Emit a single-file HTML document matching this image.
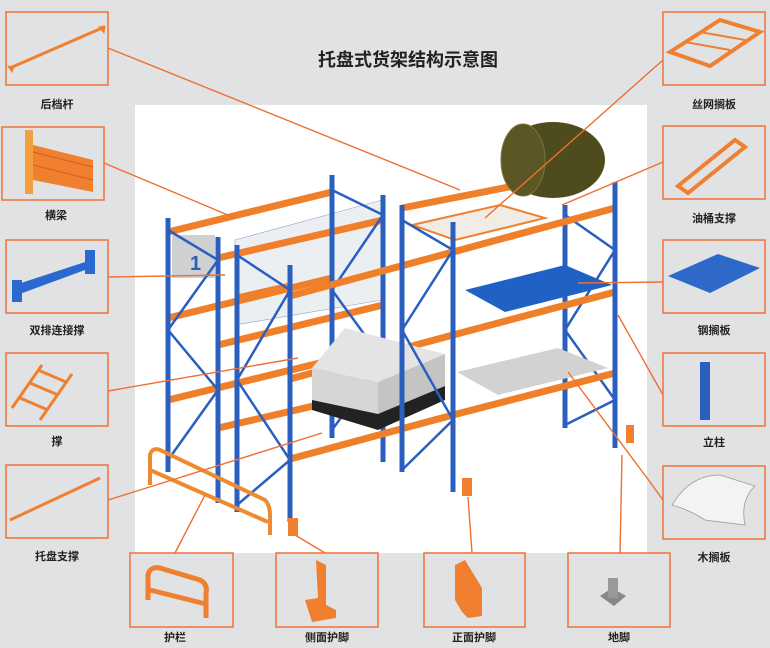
<!DOCTYPE html>
<html><head><meta charset="utf-8"><style>
html,body{margin:0;padding:0;background:#e1e2e4;}
svg{display:block;}
text{font-family:"Liberation Sans","Noto Sans CJK SC",sans-serif;font-weight:bold;fill:#222;}
</style></head><body>
<svg width="770" height="648" viewBox="0 0 770 648" xmlns="http://www.w3.org/2000/svg">
<rect width="770" height="648" fill="#e1e2e4"/>
<rect x="135" y="105" width="512" height="448" fill="#fff"/>
<text x="408" y="66" font-size="18" text-anchor="middle">托盘式货架结构示意图</text>

<g fill="none" stroke="#ee7a45" stroke-width="1.6">
<rect x="6" y="12" width="102" height="73"/>
<rect x="2" y="127" width="102" height="73"/>
<rect x="6" y="240" width="102" height="73"/>
<rect x="6" y="353" width="102" height="73"/>
<rect x="6" y="465" width="102" height="73"/>
<rect x="663" y="12" width="102" height="73"/>
<rect x="663" y="126" width="102" height="73"/>
<rect x="663" y="240" width="102" height="73"/>
<rect x="663" y="353" width="102" height="73"/>
<rect x="663" y="466" width="102" height="73"/>
<rect x="130" y="553" width="103" height="74"/>
<rect x="276" y="553" width="102" height="74"/>
<rect x="424" y="553" width="101" height="74"/>
<rect x="568" y="553" width="102" height="74"/>
</g>
<g font-size="11" text-anchor="middle">
<text x="57" y="108">后档杆</text>
<text x="56" y="219">横梁</text>
<text x="57" y="334">双排连接撑</text>
<text x="57" y="445">撑</text>
<text x="57" y="560">托盘支撑</text>
<text x="714" y="108">丝网搁板</text>
<text x="714" y="222">油桶支撑</text>
<text x="714" y="334">钢搁板</text>
<text x="714" y="446">立柱</text>
<text x="714" y="561">木搁板</text>
<text x="175" y="641">护栏</text>
<text x="327" y="641">侧面护脚</text>
<text x="474" y="641">正面护脚</text>
<text x="619" y="641">地脚</text>
</g>

<g stroke="#f08030" fill="#f08030">
<line x1="10" y1="68" x2="102" y2="28" stroke-width="3"/>
<path d="M8 66 l4 6 l2-5z M99 27 l5 6 l1-7z"/>
<rect x="25" y="130" width="8" height="64" fill="#f4a040" stroke="none"/>
<path d="M33 145 L93 160 L93 192 L33 180Z" stroke="none"/>
<path d="M33 152 L93 167 M33 165 L93 180" stroke="#d06020" stroke-width="1"/>
<rect x="700" y="362" width="10" height="58" fill="#2a5fc0" stroke="none"/>
<g stroke-width="3" fill="none">
<line x1="12" y1="408" x2="42" y2="365"/><line x1="40" y1="420" x2="72" y2="374"/>
<line x1="20" y1="398" x2="48" y2="410"/><line x1="30" y1="383" x2="58" y2="395"/><line x1="38" y1="370" x2="66" y2="382"/>
<line x1="10" y1="520" x2="100" y2="478"/>
<path d="M670 52 L720 20 L760 32 L710 66Z" stroke-width="4"/>
<path d="M685 42 L730 50 M700 32 L745 40" stroke-width="2"/>
<path d="M678 186 L735 140 L745 147 L688 193Z" stroke-width="4"/>
<path d="M148 600 L148 575 Q150 566 160 568 L200 580 Q208 584 206 594 L206 618" stroke-width="5"/>
<line x1="150" y1="590" x2="206" y2="604" stroke-width="5"/>
</g>
<path d="M316 560 L326 565 L326 605 L336 610 L336 618 L312 622 L305 600 L318 598Z" stroke="none"/>
<path d="M455 565 L465 560 L482 588 L482 616 L468 618 L462 612 L455 600Z" stroke="none"/>
</g>
<path d="M15 285 L85 262 L85 270 L17 295Z" fill="#2a6ad0"/>
<rect x="12" y="280" width="10" height="22" fill="#2a6ad0"/>
<rect x="85" y="250" width="10" height="24" fill="#2a6ad0"/>
<path d="M668 276 L718 254 L760 268 L710 293Z" fill="#2e68c8"/>
<path d="M672 505 Q690 475 720 475 L755 486 Q740 500 745 525 L705 520 Q690 510 672 505Z" fill="#f3f3f3" stroke="#999" stroke-width="0.8"/>
<path d="M600 596 L612 588 L626 596 L614 606Z" fill="#888"/>
<rect x="608" y="578" width="10" height="20" fill="#999"/>

<g stroke-linecap="butt">
<path d="M235 240 L382 200 L382 300 L235 325Z" fill="#eceff2" stroke="#8aa0c0" stroke-width="0.6"/>
<rect x="172" y="235" width="43" height="43" fill="#cfd0d2"/>
<text x="190" y="270" font-size="20" style="fill:#2a5fb8">1</text>
<g stroke="#f07f2a" stroke-width="7">
<line x1="168" y1="232" x2="332" y2="192"/>
<line x1="168" y1="318" x2="332" y2="278"/>
<line x1="168" y1="400" x2="332" y2="360"/>
<line x1="402" y1="208" x2="565" y2="176"/>
<line x1="218" y1="258" x2="383" y2="220"/>
<line x1="218" y1="345" x2="383" y2="305"/>
<line x1="218" y1="428" x2="383" y2="390"/>
</g>
<g stroke="#2a5fc0" stroke-width="5">
<line x1="168" y1="218" x2="168" y2="472"/>
<line x1="218" y1="237" x2="218" y2="503"/>
<line x1="332" y1="175" x2="332" y2="438"/>
<line x1="383" y1="195" x2="383" y2="462"/>
<line x1="565" y1="205" x2="565" y2="428"/>
</g>
<g stroke="#2a5fc0" stroke-width="2.5" fill="none">
<path d="M168 230 L218 260 L168 330 L218 390 L168 460"/>
<path d="M332 190 L383 215 L332 290 L383 360 L332 430"/>
<path d="M565 215 L615 250 L565 330 L615 400 L565 425"/>
</g>
<path d="M457 372 L558 348 L608 368 L498 395Z" fill="#d2d2d2"/>
<path d="M465 290 L565 265 L612 285 L505 312Z" fill="#1f62c4"/>
<path d="M412 225 L500 205 L545 218 L455 240Z" fill="#f2ece6" stroke="#f08030" stroke-width="2"/>
<ellipse cx="553" cy="160" rx="52" ry="38" fill="#4e4b1c"/>
<ellipse cx="523" cy="160" rx="22" ry="36" fill="#5a5724" stroke="#7a7740" stroke-width="1"/>
<g stroke="#f07f2a" stroke-width="7">
<line x1="237" y1="298" x2="290" y2="286"/>
<line x1="290" y1="296" x2="453" y2="252"/>
<line x1="290" y1="379" x2="453" y2="335"/>
<line x1="290" y1="459" x2="453" y2="415"/>
<line x1="453" y1="252" x2="615" y2="208"/>
<line x1="453" y1="335" x2="615" y2="292"/>
<line x1="453" y1="415" x2="615" y2="373"/>
</g>
<path d="M312 398 L378 412 L445 385 L445 400 L378 430 L312 410Z" fill="#222"/>
<path d="M312 368 L378 382 L378 414 L312 400Z" fill="#d6d6d6"/>
<path d="M378 382 L445 354 L445 386 L378 414Z" fill="#c4c4c4"/>
<path d="M312 368 L345 328 L445 354 L378 382Z" fill="#e4e4e4"/>
<g stroke="#2a5fc0" stroke-width="2.5" fill="none">
<path d="M237 255 L290 290 L237 380 L290 460 L237 505"/>
<path d="M402 220 L453 250 L402 330 L453 420 L402 470"/>
</g>
<g stroke="#2a5fc0" stroke-width="5">
<line x1="237" y1="245" x2="237" y2="512"/>
<line x1="290" y1="265" x2="290" y2="522"/>
<line x1="402" y1="205" x2="402" y2="472"/>
<line x1="453" y1="222" x2="453" y2="492"/>
<line x1="615" y1="182" x2="615" y2="448"/>
</g>
<g stroke="#f08a30" stroke-width="4" fill="none">
<path d="M150 485 L150 455 Q152 447 160 450 L265 500 Q270 505 270 515 L270 535"/>
<line x1="150" y1="470" x2="268" y2="522"/>
</g>
<rect x="288" y="518" width="10" height="18" fill="#f08030"/>
<rect x="462" y="478" width="10" height="18" fill="#f08030"/>
<rect x="626" y="425" width="8" height="18" fill="#f08030"/>
</g>

<g stroke="#ee6f30" stroke-width="1.4" fill="none">
<line x1="108" y1="48" x2="460" y2="190"/>
<line x1="104" y1="163" x2="235" y2="218"/>
<line x1="108" y1="277" x2="225" y2="275"/>
<line x1="108" y1="391" x2="298" y2="358"/>
<line x1="108" y1="500" x2="322" y2="433"/>
<line x1="175" y1="553" x2="205" y2="495"/>
<line x1="325" y1="553" x2="295" y2="535"/>
<line x1="472" y1="553" x2="468" y2="497"/>
<line x1="620" y1="553" x2="622" y2="455"/>
<line x1="663" y1="60" x2="485" y2="218"/>
<line x1="663" y1="162" x2="562" y2="205"/>
<line x1="663" y1="282" x2="578" y2="283"/>
<line x1="663" y1="395" x2="618" y2="315"/>
<polyline points="663,500 650,482 568,372"/>
</g>
</svg>
</body></html>
